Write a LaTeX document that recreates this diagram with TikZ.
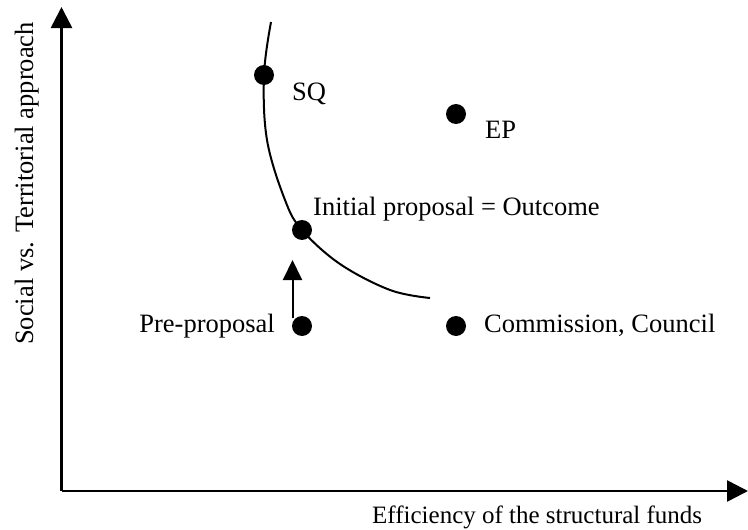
\documentclass[tikz,border=0pt]{standalone}
\usepackage{fontspec}
\setmainfont{Liberation Serif}
\usetikzlibrary{arrows.meta}
\begin{document}
\begin{tikzpicture}[x=1pt,y=-1pt,
  dot/.style={circle,fill=black,inner sep=0pt,minimum size=20pt},
  lbl/.style={font=\fontsize{26.5}{29}\selectfont,inner sep=0pt},
  axis/.style={line width=2.6pt,-{Triangle[width=21pt,length=21pt]}}]
\useasboundingbox (0,0) rectangle (748,530);
\coordinate (O) at (61.5,491);
\coordinate (Ytop) at (61.5,7);
\coordinate (Xend) at (748,491);
\draw[axis] (O) -- (Ytop);
\draw[axis] (O) -- (Xend);
\node[lbl,rotate=90,anchor=base west] (ylab) at (33,345) {Social vs. Territorial approach};
\node[lbl,font=\fontsize{25}{28}\selectfont,anchor=base west] (xlab) at (372,523) {Efficiency of the structural funds};
\draw[line width=2pt] plot[smooth,tension=0.6] coordinates {(271,22) (264,75) (267,140) (285,200) (302,230) (340,264) (390,290) (430,298)};
\node[dot] (sq) at (264,75) {};
\node[dot] (ep) at (456,114) {};
\node[dot] (ip) at (302,230) {};
\node[dot] (pp) at (302,326) {};
\node[dot] (cc) at (456,326) {};
\node[lbl,anchor=base west] (sqlab) at (292,100) {SQ};
\node[lbl,anchor=base west] (eplab) at (485,138) {EP};
\node[lbl,anchor=base west] (iplab) at (313,215) {Initial proposal = Outcome};
\node[lbl,anchor=base east] (pplab) at (275,332) {Pre-proposal};
\node[lbl,anchor=base west] (cclab) at (484,332) {Commission, Council};
\coordinate (ab) at (292.5,318);
\coordinate (at) at (292.5,260);
\draw[line width=2pt,-{Triangle[width=19pt,length=20pt]}] (ab) -- (at);
\end{tikzpicture}
\end{document}
